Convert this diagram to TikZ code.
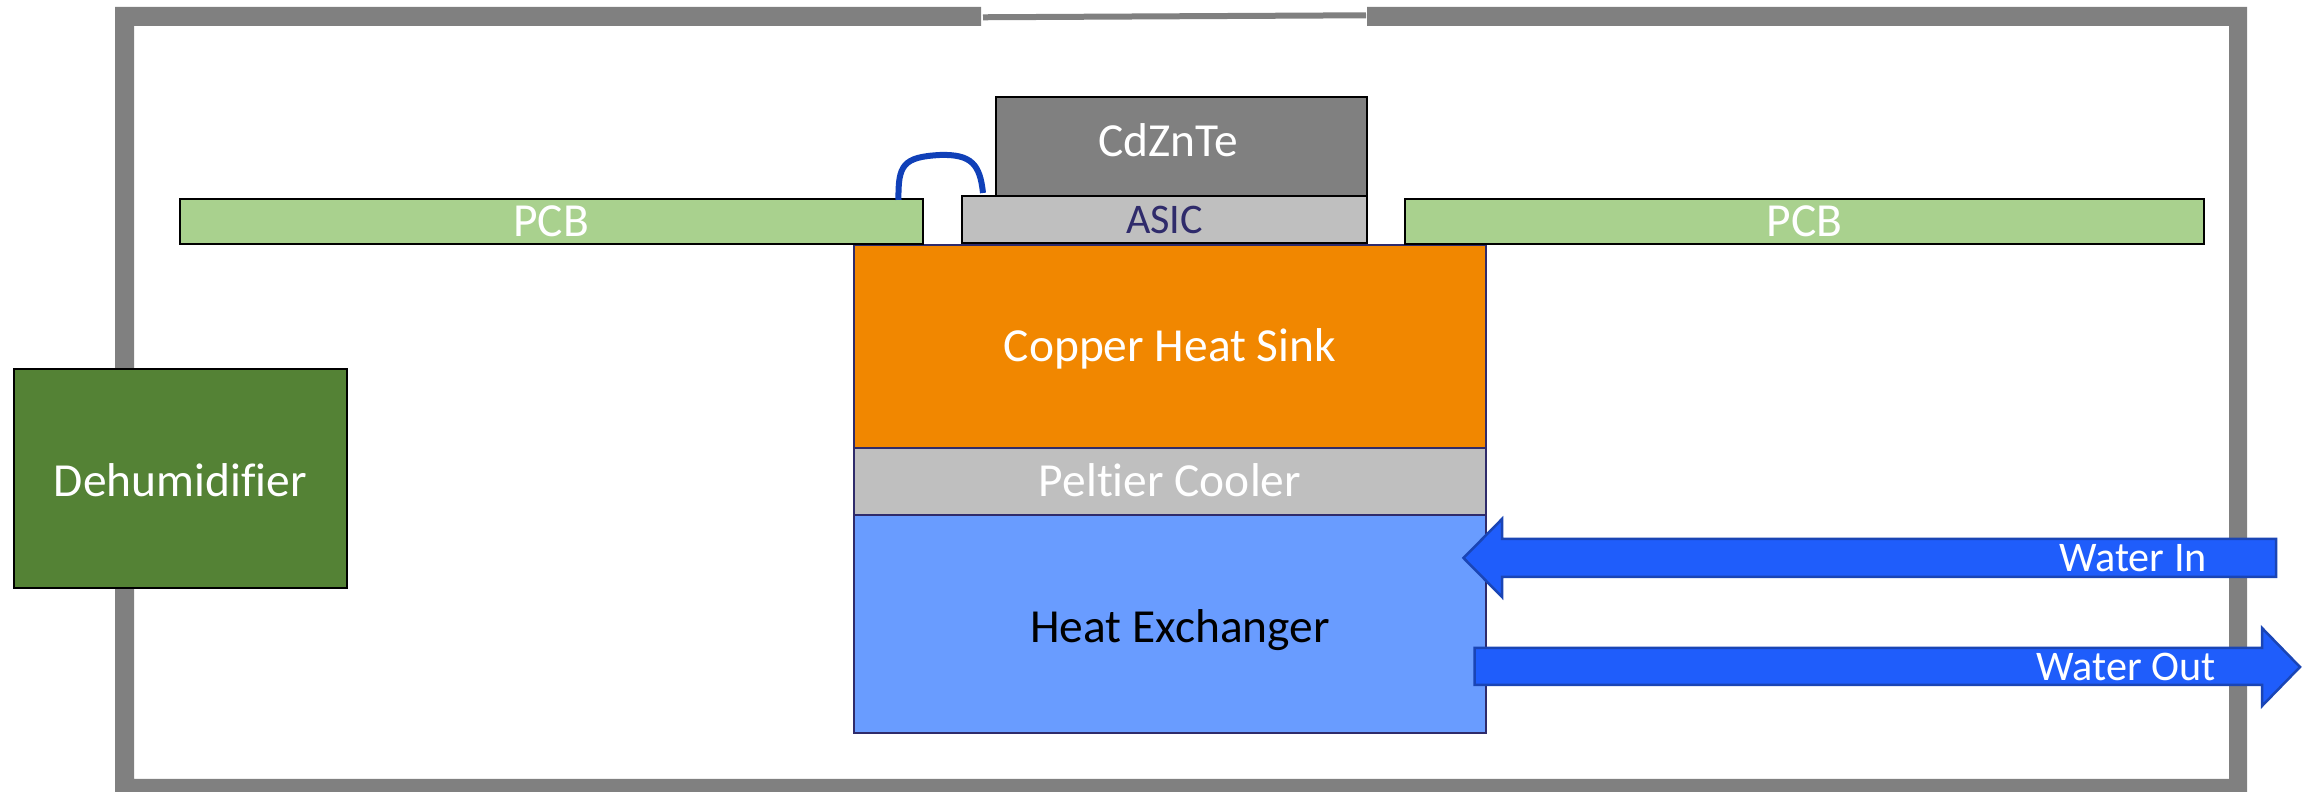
\documentclass[tikz,border=0pt]{standalone}
\usepackage{fontspec}
\setmainfont[Ligatures=NoCommon]{Carlito}
\usepackage{tikz}
\definecolor{wallgray}{HTML}{808080}
\definecolor{pcbgreen}{HTML}{A9D18E}
\definecolor{asicgray}{HTML}{BFBFBF}
\definecolor{copperorange}{HTML}{F18700}
\definecolor{exchangerblue}{HTML}{699CFF}
\definecolor{dryergreen}{HTML}{548235}
\definecolor{waterblue}{HTML}{1F5DFB}
\definecolor{waterline}{HTML}{1A45B5}
\definecolor{navyline}{HTML}{2F2B6B}
\definecolor{wireblue}{HTML}{1040B8}
\tikzset{
    partbox/.style={draw=black, line width=0.02cm, inner sep=0pt, outer sep=0pt},
    coolbox/.style={partbox, draw=navyline},
    biglabel/.style={font=\fontsize{13.5}{16}\selectfont},
    loweredlabel/.style={biglabel, text height=11pt, text depth=2.5pt},
    smalllabel/.style={font=\fontsize{12}{14}\selectfont},
    waterarrow/.style={fill=waterblue, draw=waterline, line width=0.025cm}
}

\begin{document}
\begin{tikzpicture}[scale=1]
    \useasboundingbox (0,0) rectangle (23.05,7.92);
    % enclosure
    \fill[wallgray] (9.81,7.85) -- (1.15,7.85) -- (1.15,0) -- (22.47,0) -- (22.47,7.85) -- (13.67,7.85) -- (13.67,7.66) -- (22.29,7.66) -- (22.29,0.13) -- (1.34,0.13) -- (1.34,7.66) -- (9.81,7.66) -- cycle;
    \draw[wallgray, line width=0.06cm] (9.83,7.747) -- (13.66,7.767);
    % stack
    \node (heatex) [coolbox, fill=exchangerblue, minimum width=6.32cm, minimum height=2.18cm] at (11.70,1.68) {};
    \node (heatexlabel) [loweredlabel, text=black] at (11.80,1.64) {Heat Exchanger};
    \node (peltier) [coolbox, fill=asicgray, text=white, loweredlabel, minimum width=6.32cm, minimum height=0.67cm] at (11.70,3.105) {Peltier Cooler};
    \node (copper) [coolbox, fill=copperorange, text=white, loweredlabel, minimum width=6.32cm, minimum height=2.03cm] at (11.70,4.455) {Copper Heat Sink};
    \node (pcbleft) [partbox, fill=pcbgreen, text=white, biglabel, minimum width=7.435cm, minimum height=0.45cm] at (5.5125,5.705) {PCB};
    \node (pcbright) [partbox, fill=pcbgreen, text=white, biglabel, minimum width=7.99cm, minimum height=0.45cm] at (18.045,5.705) {PCB};
    \node (asic) [partbox, fill=asicgray, text=navyline, smalllabel, minimum width=4.05cm, minimum height=0.47cm] at (11.645,5.725) {ASIC};
    \node (cdznte) [partbox, fill=wallgray, minimum width=3.71cm, minimum height=0.99cm] at (11.815,6.455) {};
    \node (cdzntelabel) [loweredlabel, text=white] at (11.68,6.50) {CdZnTe};
    \node (dehumidifier) [partbox, fill=dryergreen, text=white, loweredlabel, text height=12.7pt, minimum width=3.335cm, minimum height=2.19cm] at (1.8025,3.135) {Dehumidifier};
    % bond wire
    \coordinate (wirestart) at (8.985,5.92);
    \coordinate (wireend) at (9.83,5.99);
    \draw[wireblue, line width=0.06cm] (wirestart) .. controls (8.98,6.27) and (9.03,6.35) .. (9.40,6.37) .. controls (9.72,6.38) and (9.80,6.27) .. (wireend);
    % water
    \draw[waterarrow] (14.635,2.34) -- (15.02,2.73) -- (15.02,2.53) -- (22.76,2.53) -- (22.76,2.15) -- (15.02,2.15) -- (15.02,1.95) -- cycle;
    \draw[waterarrow] (14.745,1.44) -- (22.62,1.44) -- (22.62,1.64) -- (23.00,1.25) -- (22.62,0.86) -- (22.62,1.07) -- (14.745,1.07) -- cycle;
    \node (waterin) [smalllabel, text=white] at (21.33,2.34) {Water In};
    \node (waterout) [smalllabel, text=white] at (21.26,1.25) {Water Out};
\end{tikzpicture}
\end{document}
